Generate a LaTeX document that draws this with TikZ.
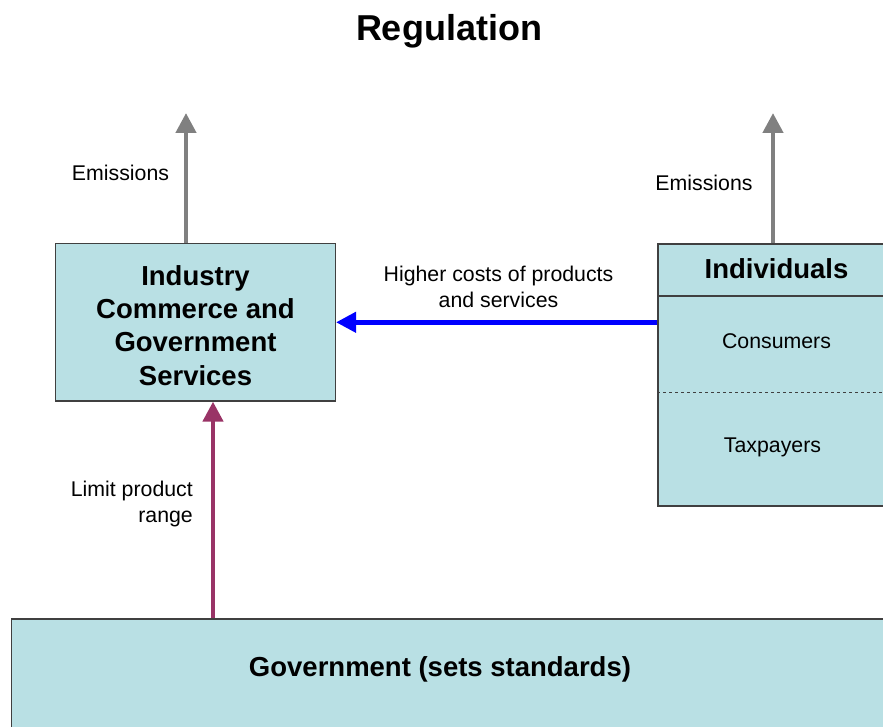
\documentclass[tikz,border=0pt]{standalone}
\usepackage{fontspec}
\setmainfont{Liberation Sans}
\usetikzlibrary{arrows.meta,positioning,calc}
\definecolor{boxfill}{RGB}{185,224,228}
\definecolor{boxline}{RGB}{64,64,64}
\definecolor{limitcol}{RGB}{153,51,102}
\newcommand{\regfont}{\fontsize{21.3}{25.5}\selectfont}
\newcommand{\boldfont}{\fontsize{27.5}{33.3}\selectfont\bfseries}

\begin{document}
\begin{tikzpicture}[x=1pt,y=-1pt,
    box/.style={draw=boxline,fill=boxfill,line width=1.2pt,inner sep=0pt,align=center},
    flow/.style={line width=4.5pt,-{Triangle[length=20pt,width=20pt]}},
    lbl/.style={inner sep=0pt,align=center,font=\regfont}]
    \useasboundingbox (0,0) rectangle (883,727);

    \node[font=\fontsize{36}{40}\selectfont\bfseries] (title) at (449,31) {Regulation};

    % boxes
    \node[box,minimum width=280pt,minimum height=157.5pt] (ics) at (195.5,322.3) {};
    \node[font=\boldfont,align=center] (icstext) at (195.5,325.5)
      {Industry\\Commerce and\\Government\\Services};
    \node[box,minimum width=237pt,minimum height=262pt] (ind) at (776.5,375) {};
    \node[box,minimum width=884pt,minimum height=121pt] (gov) at (453.5,679.5) {};
    \node[font=\boldfont] (govtext) at (440,669) {Government (sets standards)};

    \draw[boxline,line width=1.2pt] (ind.west |- 0,296) -- (ind.east |- 0,296);
    \draw[boxline,line width=1pt,dashed] (ind.west |- 0,392) -- (ind.east |- 0,392);
    \node[font=\boldfont] (indhead) at (776.5,269) {Individuals};
    \node[lbl] (cons) at (776.5,341) {Consumers};
    \node[lbl] (tax) at (772.5,447) {Taxpayers};

    % connectors
    \coordinate (emisL) at (186,113);
    \coordinate (emisR) at (773,113);
    \coordinate (lim) at (213,0);
    \draw[flow,gray] (ics.north -| emisL) -- (emisL);
    \draw[flow,gray] (ind.north -| emisR) -- (emisR);
    \draw[flow,blue] (ind.west |- ics.east) -- (ics.east);
    \draw[flow,limitcol] (gov.north -| lim) -- (ics.south -| lim);

    \node[lbl] (emisLtext) at (120.5,173) {Emissions};
    \node[lbl] (emisRtext) at (704,183) {Emissions};
    \node[lbl] (costtext) at (498.5,287) {Higher costs of products\\and services};
    \node[lbl,align=right,anchor=east] (limtext) at (193,504) {Limit product\\range};
\end{tikzpicture}
\end{document}
